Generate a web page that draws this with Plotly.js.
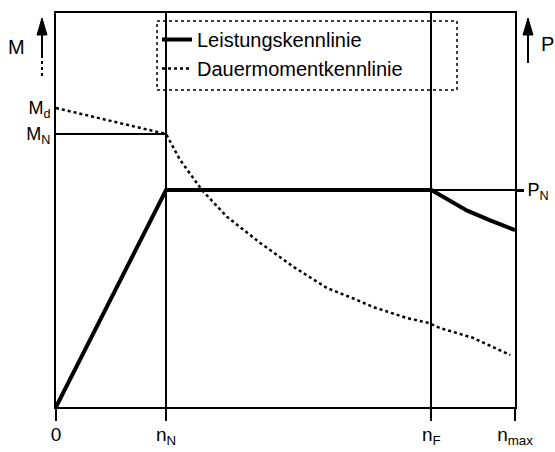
<!DOCTYPE html>
<html><head><meta charset="utf-8">
<script src="https://cdn.plot.ly/plotly-3.0.1.min.js"></script>
<style>html,body{margin:0;padding:0;background:#fff}#chart{width:555px;height:452px}</style>
</head><body><div id="chart"></div><script>
// ---- data (normalised: n_N = 1, M_N = 1, P_N = 1) ----
const nTickVals = [0, 1, 3.41, 4.17];
const nTickText = ['0', 'n<sub>N</sub>', 'n<sub>F</sub>', 'n<sub>max</sub>'];
const mTickVals = [1.095, 1];
const mTickText = ['M<sub>d</sub>', 'M<sub>N</sub>'];
const pTickVals = [1];
const pTickText = ['P<sub>N</sub>'];

const leistungN = [0, 1, 3.41, 3.582, 3.736, 3.945, 4.17];
const leistungP = [0, 1, 1, 0.952, 0.905, 0.860, 0.815];

const dauerN = [0, 1, 1.127, 1.325, 1.552, 1.855, 2.155, 2.461, 2.734, 2.882, 3.188, 3.382, 3.491, 3.791, 4.127];
const dauerM = [1.095, 1.0, 0.905, 0.795, 0.697, 0.601, 0.514, 0.436, 0.392, 0.366, 0.326, 0.308, 0.289, 0.253, 0.190];

const mNLevelN = [0, 1];
const mNLevelM = [1, 1];
const pNLevelN = [3.41, 4.17];
const pNLevelP = [1, 1];

const legendNames = ['Leistungskennlinie', 'Dauermomentkennlinie'];

// ---- layout helpers ----
const L = 56, T = 13, W = 459, H = 394;
const fx = x => (x - L) / W;
const fy = y => (T + H - y) / H;
const FONT = 'Liberation Sans, Arial, sans-serif';

const traces = [
  {x: leistungN, y: leistungP, yaxis: 'y2', mode: 'lines', name: legendNames[0],
   line: {color: '#000', width: 4}},
  {x: dauerN, y: dauerM, mode: 'lines', name: legendNames[1],
   line: {color: '#000', width: 2.5, dash: 'dot'}},
  {x: mNLevelN, y: mNLevelM, mode: 'lines', showlegend: false, hoverinfo: 'skip',
   line: {color: '#000', width: 2}},
  {x: pNLevelN, y: pNLevelP, yaxis: 'y2', mode: 'lines', showlegend: false, hoverinfo: 'skip',
   line: {color: '#000', width: 2}}
];

function tri(xc, ytop, ybase, hw) {
  return 'M' + fx(xc) + ',' + fy(ytop) + ' L' + fx(xc - hw) + ',' + fy(ybase) +
         ' L' + fx(xc + hw) + ',' + fy(ybase) + ' Z';
}

const layout = {
  width: 555, height: 452,
  margin: {l: L, r: 555 - L - W, t: T, b: 452 - T - H, pad: 0},
  paper_bgcolor: '#fff', plot_bgcolor: '#fff',
  font: {family: FONT, color: '#000'},
  showlegend: true,
  legend: {x: fx(157), y: fy(20), xanchor: 'left', yanchor: 'top',
           bgcolor: 'rgba(0,0,0,0)', borderwidth: 0, font: {size: 20, family: FONT},
           itemwidth: 30, tracegroupgap: 0},
  xaxis: {range: [0, 4.17], tickmode: 'array', tickvals: nTickVals, ticktext: nTickText,
          ticks: 'outside', ticklen: 12, tickwidth: 2, tickcolor: '#000',
          showline: true, linecolor: '#000', linewidth: 2, mirror: true,
          showgrid: true, gridcolor: '#000', gridwidth: 2, zeroline: false,
          ticklabelstandoff: -3,
          tickfont: {size: 19, family: FONT}, fixedrange: true},
  yaxis: {range: [0, 1.443], tickmode: 'array', tickvals: mTickVals, ticktext: mTickText,
          ticks: '', showline: true, linecolor: '#000', linewidth: 2, mirror: true,
          showgrid: false, zeroline: false, tickfont: {size: 18, family: FONT}, fixedrange: true},
  yaxis2: {range: [0, 1.816], overlaying: 'y', side: 'right', tickmode: 'array',
           tickvals: pTickVals, ticktext: pTickText, ticks: 'outside', ticklen: 8,
           tickwidth: 3, tickcolor: '#000', showline: false, showgrid: false, zeroline: false,
           tickfont: {size: 18, family: FONT}, fixedrange: true},
  shapes: [
    {type: 'rect', xref: 'paper', yref: 'paper', x0: fx(157), x1: fx(457), y0: fy(90), y1: fy(21),
     line: {color: '#000', width: 1.5, dash: 'dot'}},
    // left M arrow
    {type: 'line', xref: 'paper', yref: 'paper', x0: fx(42), x1: fx(42), y0: fy(30), y1: fy(55),
     line: {color: '#000', width: 2}},
    {type: 'line', xref: 'paper', yref: 'paper', x0: fx(42), x1: fx(42), y0: fy(55), y1: fy(77),
     line: {color: '#000', width: 2, dash: 'dot'}},
    {type: 'path', xref: 'paper', yref: 'paper', path: tri(42, 18, 35, 5),
     fillcolor: '#000', line: {color: '#000', width: 1}},
    // right P arrow
    {type: 'line', xref: 'paper', yref: 'paper', x0: fx(528), x1: fx(528), y0: fy(30), y1: fy(63),
     line: {color: '#000', width: 2}},
    {type: 'path', xref: 'paper', yref: 'paper', path: tri(528, 18, 35, 5),
     fillcolor: '#000', line: {color: '#000', width: 1}}
  ],
  annotations: [
    {text: 'M', xref: 'paper', yref: 'paper', x: fx(16), y: fy(47), showarrow: false,
     xanchor: 'center', yanchor: 'middle', font: {size: 20, family: FONT}},
    {text: 'P', xref: 'paper', yref: 'paper', x: fx(539), y: fy(44), showarrow: false,
     xanchor: 'left', yanchor: 'middle', font: {size: 20, family: FONT}}
  ]
};

Plotly.newPlot('chart', traces, layout, {displayModeBar: false, staticPlot: true});
</script></body></html>
